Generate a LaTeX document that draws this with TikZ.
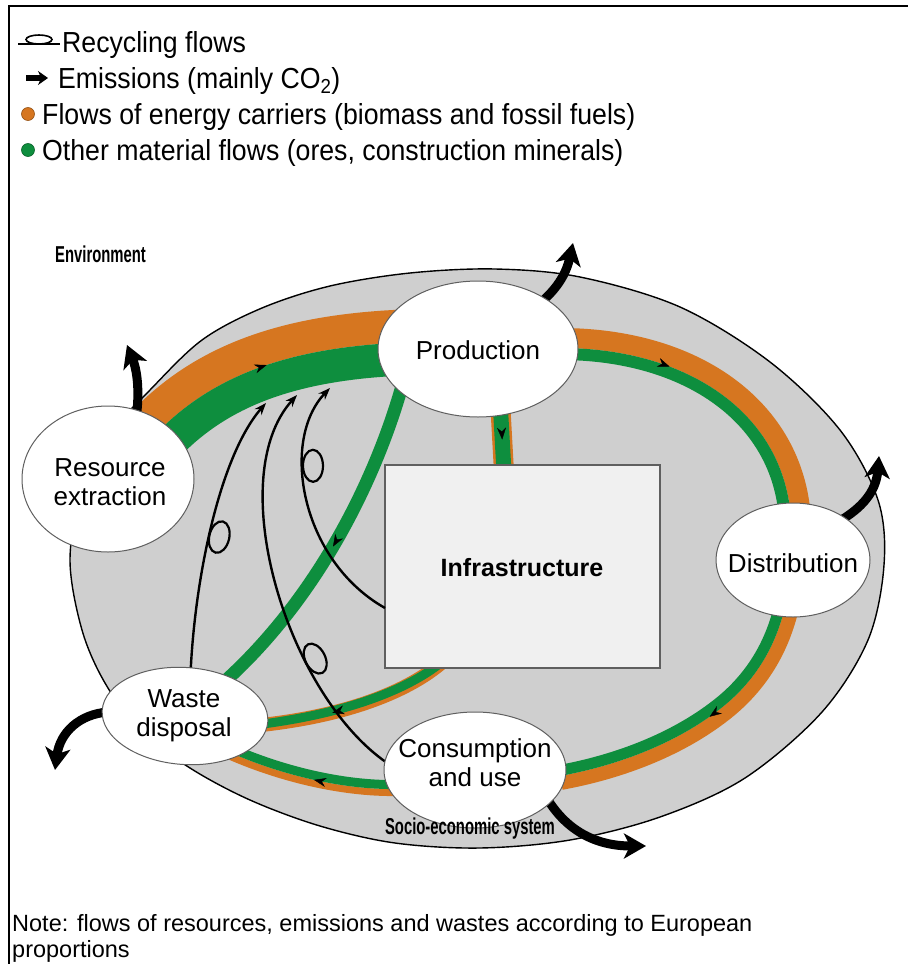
\documentclass[tikz,border=0pt]{standalone}
\usepackage{fontspec}
\setmainfont{Liberation Sans}
\newfontfamily\narrowfont{Liberation Sans}[FakeStretch=0.645]
\newfontfamily\legendfont{Liberation Sans}[FakeStretch=0.92]
\usetikzlibrary{arrows.meta,decorations.markings,shapes.geometric}

\definecolor{energy}{RGB}{214,118,32}
\definecolor{matter}{RGB}{14,142,62}
\definecolor{society}{RGB}{207,207,207}
\definecolor{infra}{RGB}{240,240,240}
\definecolor{rim}{RGB}{95,95,95}

% orange/green boundary of the throughput ring (energy outside, material inside)
\def\ringNEtail{.. controls (690,348) and (785,415) .. (791,520)}
\def\ringEtail{.. controls (795,585) and (785,655) .. (725,705) .. controls (680,742) and (620,765) .. (560,776)}
\def\ringStail{.. controls (500,787) and (440,790) .. (387,789) .. controls (330,788) and (260,770) .. (200,738)}
% boundary between the energy and material halves of the extraction band
\def\extractTail{.. controls (200,378) and (285,345) .. (420,342)}

\begin{document}
\begin{tikzpicture}[x=1pt,y=-1pt,
  stage/.style={ellipse, draw=rim, line width=1pt, fill=white, inner sep=0pt},
  stagetext/.style={align=center, inner sep=0pt, text=black, font=\fontsize{26}{29}\selectfont},
  legendtext/.style={anchor=base west, inner sep=0pt, font=\legendfont\fontsize{29}{32}\selectfont},
  emission/.style={line width=9pt, -{Stealth[length=22pt,width=25pt,inset=6pt]}},
  recycle/.style={line width=2.4pt, -{Stealth[length=12pt,width=9pt]}},
  loopmark/.style={postaction={decorate}, decoration={markings, mark=at position #1 with {\draw[-, line width=2.2pt] (0,10) ellipse [x radius=16, y radius=10];}}},
  flowmark/.style={postaction={decorate}, decoration={markings, mark=at position #1 with {\arrow{Stealth[length=12pt,width=9pt]}}}},
  smalltitle/.style={inner sep=0pt, font=\narrowfont\bfseries\fontsize{23}{26}\selectfont},
  notetext/.style={anchor=base west, inner sep=0pt, font=\fontsize{23.5}{27}\selectfont}
]
\useasboundingbox (0,0) rectangle (908,964);
\fill[white] (0,0) rectangle (908,964);
\draw[line width=2pt] (9,964) -- (9,6) -- (908,6);

% ---------- legend ----------
\draw[line width=1.6pt] (18,44) -- (60,44);
\draw[line width=1.6pt] (39,39.5) ellipse [x radius=13, y radius=4.5];
\node[legendtext] (lg-recycle) at (62,52) {Recycling flows};
\draw[line width=6pt, -{Stealth[length=10pt,width=14pt]}] (26,78) -- (48,78);
\node[legendtext] (lg-emission) at (58,88) {Emissions (mainly CO\textsubscript{2})};
\filldraw[fill=energy, draw=energy!70!black, line width=0.6pt] (28,114) circle (6.5);
\node[legendtext] (lg-energy) at (42,124) {Flows of energy carriers (biomass and fossil fuels)};
\filldraw[fill=matter, draw=matter!70!black, line width=0.6pt] (28,150) circle (6.5);
\node[legendtext] (lg-matter) at (42,160) {Other material flows (ores, construction minerals)};

% ---------- socio-economic system ----------
\draw[fill=society, line width=1.4pt] plot[smooth cycle, tension=0.55] coordinates {
  (70,560) (82,490) (112,432) (150,390) (202,340) (262,308) (330,286) (410,273)
  (495,269) (580,277) (680,307) (770,362) (840,430) (878,500) (884,565) (868,640)
  (822,712) (745,778) (660,817) (570,840) (480,848) (395,843) (320,826) (250,800)
  (190,768) (140,730) (105,683) (82,630)};
\node[smalltitle, anchor=base west] (env-label) at (55,262) {Environment};

% extraction band: energy carriers outside, materials inside
\begin{scope}
  \clip (140,452) \extractTail -- (520,342) -- (520,200) -- (40,200) -- (40,452) -- cycle;
  \draw[energy, line width=66pt] (140,452) \extractTail;
\end{scope}
\begin{scope}
  \clip (140,452) \extractTail -- (520,342) -- (520,600) -- (140,600) -- cycle;
  \draw[matter, line width=66pt] (140,452) \extractTail;
\end{scope}
\path[flowmark=0.5] (140,452) \extractTail;

% throughput ring: production -> distribution -> consumption -> waste
\begin{scope}[even odd rule]
  \clip (0,0) rectangle (908,964)
    (560,348) \ringNEtail \ringEtail \ringStail -- (120,560) -- (250,380) -- cycle;
  \draw[energy, line width=40pt] (560,348) \ringNEtail;
  \draw[energy, line width=28pt] (791,520) \ringEtail;
  \draw[energy, line width=14pt] (560,776) \ringStail;
\end{scope}
\begin{scope}
  \clip (560,348) \ringNEtail \ringEtail \ringStail -- (120,560) -- (250,380) -- cycle;
  \draw[matter, line width=24pt] (560,348) \ringNEtail;
  \draw[matter, line width=22pt] (791,520) \ringEtail;
  \draw[matter, line width=18pt] (560,776) \ringStail;
\end{scope}
\path[flowmark=0.35] (560,348) \ringNEtail;
\path[flowmark=0.58] (791,520) \ringEtail;
\path[flowmark=0.67] (560,776) \ringStail;

% production -> infrastructure
\coordinate (prod-foot) at (500,400);
\coordinate (infra-head) at (504,472);
\draw[energy, line width=20pt, shift={(4,0)}] (prod-foot) -- (infra-head);
\draw[matter, line width=15pt] (prod-foot) -- (infra-head);
\path[flowmark=0.55] (prod-foot) -- (infra-head);

% infrastructure -> waste disposal
\coordinate (infra-foot) at (450,655);
\coordinate (waste-in) at (225,728);
\draw[energy, line width=14pt] (infra-foot) .. controls (410,695) and (330,722) .. (waste-in);
\draw[matter, line width=9pt, shift={(0,-2.5)}] (infra-foot) .. controls (410,695) and (330,722) .. (waste-in);
\path[flowmark=0.55] (infra-foot) .. controls (410,695) and (330,722) .. (waste-in);

% production -> waste disposal (materials only)
\coordinate (prod-side) at (405,375);
\coordinate (waste-top) at (215,690);
\draw[matter, line width=13pt] (prod-side) .. controls (380,470) and (320,600) .. (waste-top);
\path[flowmark=0.5] (prod-side) .. controls (380,470) and (320,600) .. (waste-top);

% infrastructure stock
\node[draw=rim, fill=infra, line width=1.2pt, minimum width=275pt, minimum height=203pt, inner sep=0pt] (infra) at (522.5,566.5) {};
\node[stagetext, font=\bfseries\fontsize{25}{28}\selectfont] (infra-label) at (522,568) {Infrastructure};

% recycling flows back into production
\draw[recycle, loopmark=0.52] (190,690) .. controls (192,590) and (218,458) .. (266,403);
\draw[recycle, loopmark=0.33] (395,768) .. controls (290,705) and (220,480) .. (297,395);
\draw[recycle, loopmark=0.67] (385,608) .. controls (300,560) and (280,440) .. (330,388);

% emissions
\draw[emission] (136,420) .. controls (140,390) and (137,370) .. (127,345);
\draw[emission] (538,305) .. controls (556,290) and (566,275) .. (573,243);
\draw[emission] (838,522) .. controls (862,508) and (876,492) .. (879,456);
\draw[emission] (108,712) .. controls (80,714) and (60,732) .. (55,770);
\draw[emission] (545,795) .. controls (565,830) and (595,846) .. (646,846);

% stages
\node[stage, minimum width=172pt, minimum height=146pt] (extract) at (108,479) {};
\node[stage, minimum width=200pt, minimum height=136pt] (prod) at (478,349) {};
\node[stage, minimum width=154pt, minimum height=114pt] (distr) at (793,560) {};
\node[stage, minimum width=166pt, minimum height=97pt, rotate=-4] (waste) at (185,716) {};
\node[stage, minimum width=182pt, minimum height=116pt] (consume) at (475,770) {};

\node[stagetext] (extract-label) at (110,482) {Resource\\extraction};
\node[stagetext] (prod-label) at (478,350) {Production};
\node[stagetext] (distr-label) at (793,563) {Distribution};
\node[stagetext] (waste-label) at (184,716) {Waste\\disposal};
\node[stagetext] (consume-label) at (475,763) {Consumption\\and use};

\node[smalltitle, anchor=base] (system-label) at (470,834) {Socio-economic system};

% ---------- note ----------
\node[notetext] (note-a) at (12,931) {Note: flows of resources, emissions and wastes according to European};
\node[notetext] (note-b) at (12,957) {proportions};
\end{tikzpicture}
\end{document}
